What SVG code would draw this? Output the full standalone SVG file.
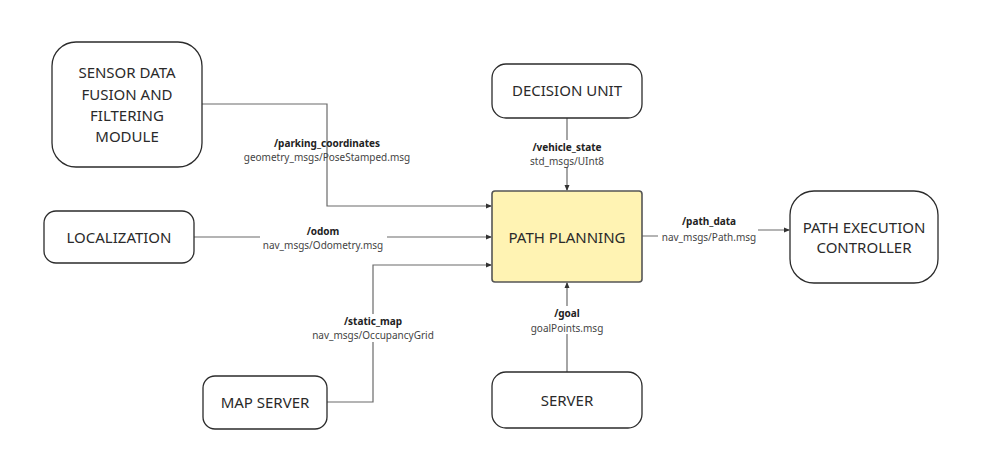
<svg xmlns="http://www.w3.org/2000/svg" width="1002" height="462" viewBox="0 0 1002 462">
<style>
.node{fill:#fff;stroke:#2b2b2b;stroke-width:1.3}
.hl{fill:#fff3b3;stroke:#555;stroke-width:1.6}
.nt{font-family:"Noto Sans","Open Sans",sans-serif;font-size:15px;fill:#2a2a2a;text-anchor:middle}
.conn{fill:none;stroke:#6a6a6a;stroke-width:1.2}
.tb{font-family:"Noto Sans","Open Sans",sans-serif;font-size:10px;font-weight:bold;fill:#222;text-anchor:middle}
.tn{font-family:"Noto Sans","Open Sans",sans-serif;font-size:10px;fill:#444;text-anchor:middle}
.bg{fill:#fff}
</style>
<defs>
<marker id="arr" viewBox="0 0 6 6" refX="5" refY="3" markerWidth="6" markerHeight="6" markerUnits="userSpaceOnUse" orient="auto">
<path d="M0,0.5 L6,3 L0,5.5 Z" fill="#333"/>
</marker>
</defs>
<rect width="1002" height="462" fill="#fff"/>
<g id="connectors">
<path class="conn" d="M202,104 H327 V206 H491" marker-end="url(#arr)"/>
<path class="conn" d="M194,237 H491" marker-end="url(#arr)"/>
<path class="conn" d="M327,402 H373 V265 H491" marker-end="url(#arr)"/>
<path class="conn" d="M567,118 V190" marker-end="url(#arr)"/>
<path class="conn" d="M567,372 V283" marker-end="url(#arr)"/>
<path class="conn" d="M642,236 H710 V230 H789" marker-end="url(#arr)"/>
<rect class="bg" x="260" y="225" width="127" height="27"/>
<rect class="bg" x="312" y="314" width="122" height="28"/>
<rect class="bg" x="528" y="140" width="78" height="27"/>
<rect class="bg" x="528" y="306" width="78" height="28"/>
<rect class="bg" x="658" y="214" width="100" height="30"/>
<text class="tb" x="327" y="147">/parking_coordinates</text>
<text class="tn" x="327" y="161">geometry_msgs/PoseStamped.msg</text>
<text class="tb" x="323" y="235">/odom</text>
<text class="tn" x="323" y="249">nav_msgs/Odometry.msg</text>
<text class="tb" x="373" y="325">/static_map</text>
<text class="tn" x="373" y="339">nav_msgs/OccupancyGrid</text>
<text class="tb" x="567" y="151">/vehicle_state</text>
<text class="tn" x="567" y="165">std_msgs/UInt8</text>
<text class="tb" x="567" y="317">/goal</text>
<text class="tn" x="567" y="332">goalPoints.msg</text>
<text class="tb" x="709" y="225">/path_data</text>
<text class="tn" x="709" y="241">nav_msgs/Path.msg</text>
</g>
<g id="sensor">
<rect class="node" x="52" y="42" width="150" height="125" rx="24"/>
<text class="nt" x="127" y="78">SENSOR DATA</text>
<text class="nt" x="127" y="100">FUSION AND</text>
<text class="nt" x="127" y="121">FILTERING</text>
<text class="nt" x="127" y="142">MODULE</text>
</g>
<g id="decision">
<rect class="node" x="492" y="64" width="150" height="54" rx="14"/>
<text class="nt" x="567" y="96">DECISION UNIT</text>
</g>
<g id="localization">
<rect class="node" x="44" y="211" width="150" height="52" rx="12"/>
<text class="nt" x="119" y="243">LOCALIZATION</text>
</g>
<g id="pathplanning">
<rect class="hl" x="492" y="191" width="150" height="91" rx="3"/>
<text class="nt" x="567" y="243">PATH PLANNING</text>
</g>
<g id="pathexec">
<rect class="node" x="790" y="191" width="148" height="92" rx="24"/>
<text class="nt" x="864" y="233">PATH EXECUTION</text>
<text class="nt" x="864" y="253">CONTROLLER</text>
</g>
<g id="mapserver">
<rect class="node" x="203" y="376" width="124" height="53" rx="12"/>
<text class="nt" x="265" y="408">MAP SERVER</text>
</g>
<g id="server">
<rect class="node" x="492" y="372" width="150" height="56" rx="14"/>
<text class="nt" x="567" y="406">SERVER</text>
</g>
</svg>
